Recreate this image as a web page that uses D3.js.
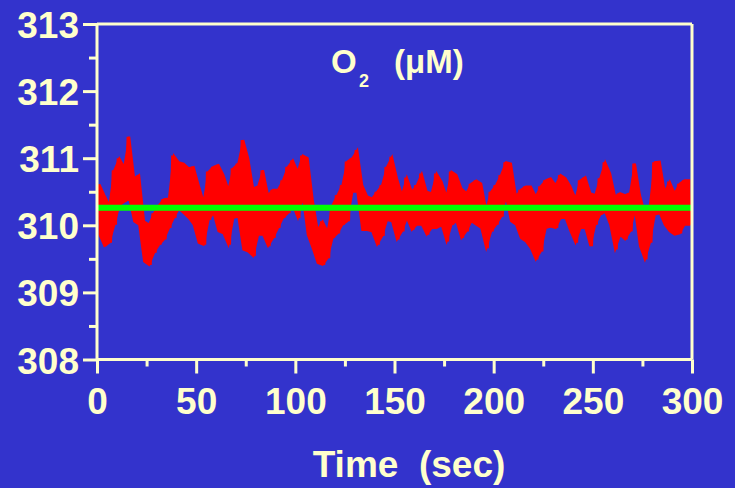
<!DOCTYPE html>
<html>
<head>
<meta charset="utf-8">
<script src="https://cdn.jsdelivr.net/npm/d3@7"></script>
<style>
  html, body { margin: 0; padding: 0; background: #3333CC; }
  svg { display: block; }
  text { font-family: "Liberation Sans", Arial, sans-serif; font-weight: bold; fill: #FFFFCC; }
</style>
</head>
<body>
<svg id="chart" width="735" height="488"></svg>
<script>
// ---- data ----
const xTicks = [0, 50, 100, 150, 200, 250, 300];
const xMinorTicks = [25, 75, 125, 175, 225, 275];
const yTicks = [308, 309, 310, 311, 312, 313];
const yMinorTicks = [308.5, 309.5, 310.5, 311.5, 312.5];
const baselineO2 = 310.26;          // green mean line
const titleMain = "O";
const titleSub = "2";
const titleUnit = "(\u03BCM)";
const xLabel = "Time  (sec)";

// time (s) of each sample bin
const times = [1.25,3.75,6.25,8.75,11.25,13.75,16.25,18.75,21.25,23.75,
  26.25,28.75,31.25,33.75,36.25,38.75,41.25,43.75,46.25,48.75,
  51.25,53.75,56.25,58.75,61.25,63.75,66.25,68.75,71.25,73.75,
  76.25,78.75,81.25,83.75,86.25,88.75,91.25,93.75,96.25,98.75,
  101.25,103.75,106.25,108.75,111.25,113.75,116.25,118.75,121.25,123.75,
  126.25,128.75,131.25,133.75,136.25,138.75,141.25,143.75,146.25,148.75,
  151.25,153.75,156.25,158.75,161.25,163.75,166.25,168.75,171.25,173.75,
  176.25,178.75,181.25,183.75,186.25,188.75,191.25,193.75,196.25,198.75,
  201.25,203.75,206.25,208.75,211.25,213.75,216.25,218.75,221.25,223.75,
  226.25,228.75,231.25,233.75,236.25,238.75,241.25,243.75,246.25,248.75,
  251.25,253.75,256.25,258.75,261.25,263.75,266.25,268.75,271.25,273.75,
  276.25,278.75,281.25,283.75,286.25,288.75,291.25,293.75,296.25,298.75];

// upper envelope of the O2 trace in each bin (µM)
const o2High = [310.61,310.45,310.30,310.82,311.00,310.87,311.32,310.70,310.75,310.06,
  310.01,310.18,310.30,310.39,310.40,311.04,310.94,310.92,310.85,310.87,
  310.60,310.35,310.80,310.87,310.90,310.75,310.53,310.85,310.92,311.27,
  311.00,310.55,310.58,310.82,310.45,310.53,310.53,310.67,310.87,310.97,
  310.80,311.04,311.00,310.39,309.93,310.06,309.91,310.30,310.45,310.60,
  310.95,311.00,311.12,310.60,310.43,310.40,310.50,310.60,310.87,311.02,
  310.70,310.45,310.71,310.50,310.60,310.77,310.50,310.48,310.77,310.65,
  310.43,310.80,310.75,310.55,310.48,310.62,310.67,310.62,310.23,310.50,
  310.60,310.75,310.94,310.92,310.43,310.53,310.58,310.58,310.43,310.58,
  310.67,310.70,310.60,310.75,310.70,310.58,310.40,310.67,310.72,310.48,
  310.45,310.70,310.94,310.77,310.43,310.48,310.45,310.48,310.92,310.45,
  310.18,310.30,310.94,310.95,310.50,310.65,310.48,310.62,310.67,310.67];

// lower envelope of the O2 trace in each bin (µM)
const o2Low = [309.86,309.69,309.74,310.01,310.30,310.35,310.40,310.06,310.01,309.46,
  309.41,309.59,309.71,309.79,309.96,310.11,310.25,310.18,310.11,310.01,
  309.74,309.71,310.08,310.18,309.91,309.88,309.71,310.11,310.13,309.64,
  309.61,309.54,309.86,309.86,309.69,309.81,309.96,310.11,310.18,310.30,
  310.11,310.43,309.86,309.66,309.44,309.41,309.51,309.81,309.88,310.01,
  310.06,310.50,310.50,309.93,309.93,309.91,309.71,309.84,310.08,310.06,
  309.79,309.91,310.11,309.93,310.01,310.01,309.86,309.96,309.96,310.01,
  309.76,310.01,310.06,309.81,309.91,310.06,310.01,309.96,309.66,309.91,
  310.01,310.13,310.43,310.06,310.01,309.81,309.76,309.66,309.49,309.61,
  309.96,309.98,309.96,310.11,310.11,309.91,309.74,309.96,309.96,309.69,
  310.01,310.16,310.20,310.01,309.64,309.86,309.79,309.91,310.23,309.69,
  309.49,309.74,310.16,310.18,310.01,309.91,309.86,309.88,310.01,310.01];

// ---- drawing ----
const svg = d3.select("#chart");
const cream = "#FFFFCC";
const x = d3.scaleLinear().domain([0, 300]).range([97, 692]);
const y = d3.scaleLinear().domain([308, 313]).range([359.5, 24]);

svg.append("rect").attr("width", 735).attr("height", 488).attr("fill", "#3333CC");

const samples = times.map((t, i) => ({ t, hi: o2High[i], lo: o2Low[i] }));

// filled band of the noisy trace
svg.append("path")
  .datum(samples)
  .attr("fill", "#FF0000")
  .attr("stroke", "#FF0000")
  .attr("stroke-width", 2)
  .attr("stroke-linejoin", "miter")
  .attr("d", d3.area()
    .x(d => x(d.t))
    .y0(d => y(d.lo))
    .y1(d => y(d.hi))
    .curve(d3.curveLinear));

// zig-zag texture of the trace
const zig = [];
samples.forEach(d => { zig.push([d.t - 0.7, d.hi]); zig.push([d.t + 0.7, d.lo]); });
svg.append("path")
  .datum(zig)
  .attr("fill", "none")
  .attr("stroke", "#FF0000")
  .attr("stroke-width", 2.5)
  .attr("d", d3.line().x(d => x(d[0])).y(d => y(d[1])));

// green mean line
svg.append("line")
  .attr("x1", x(0)).attr("x2", x(300))
  .attr("y1", y(baselineO2)).attr("y2", y(baselineO2))
  .attr("stroke", "#00FF00").attr("stroke-width", 6);

// frame
const frame = svg.append("g").attr("stroke", cream).attr("stroke-width", 3).attr("fill", "none");
frame.append("line").attr("x1", x(0)).attr("x2", x(300)).attr("y1", y(313)).attr("y2", y(313));
frame.append("line").attr("x1", x(300)).attr("x2", x(300)).attr("y1", y(313)).attr("y2", y(308));

// axes
const yAxis = d3.axisLeft(y).tickValues(yTicks).tickFormat(d3.format("d")).tickSize(14).tickPadding(4);
const yAx = svg.append("g").attr("transform", `translate(${x(0)},0)`).call(yAxis);
const yMin = d3.axisLeft(y).tickValues(yMinorTicks).tickFormat("").tickSize(8);
const yAxMin = svg.append("g").attr("transform", `translate(${x(0)},0)`).call(yMin);

const xAxis = d3.axisBottom(x).tickValues(xTicks).tickFormat(d3.format("d")).tickSize(14).tickPadding(14);
const xAx = svg.append("g").attr("transform", `translate(0,${y(308)})`).call(xAxis);
const xMin = d3.axisBottom(x).tickValues(xMinorTicks).tickFormat("").tickSize(7);
const xAxMin = svg.append("g").attr("transform", `translate(0,${y(308)})`).call(xMin);

[yAx, yAxMin, xAx, xAxMin].forEach(g => {
  g.selectAll(".domain").attr("stroke", cream).attr("stroke-width", 3);
  g.selectAll(".tick line").attr("stroke", cream).attr("stroke-width", 3);
});
yAxMin.select(".domain").remove();
xAxMin.select(".domain").remove();
yAx.select(".domain").attr("d", `M0,${y(313)}V${y(308)}`);
xAx.select(".domain").attr("d", `M${x(0)},0H${x(300)}`);

yAx.selectAll(".tick text")
  .attr("x", -18).attr("dy", null).attr("y", 13.5)
  .style("font-size", "37px").style("font-family", "Liberation Sans, Arial, sans-serif")
  .style("font-weight", "bold").attr("fill", cream);
xAx.selectAll(".tick text")
  .attr("dy", null).attr("y", 54)
  .style("font-size", "37px").style("font-family", "Liberation Sans, Arial, sans-serif")
  .style("font-weight", "bold").attr("fill", cream);

// title
svg.append("text").attr("x", 331).attr("y", 73).style("font-size", "33px").text(titleMain);
svg.append("text").attr("x", 359).attr("y", 87).style("font-size", "18px").text(titleSub);
svg.append("text").attr("x", 394).attr("y", 73).style("font-size", "33px").text(titleUnit);

// x label
svg.append("text").attr("x", 409).attr("y", 477).attr("text-anchor", "middle")
  .style("font-size", "37px").style("white-space", "pre").text(xLabel);
</script>
</body>
</html>
